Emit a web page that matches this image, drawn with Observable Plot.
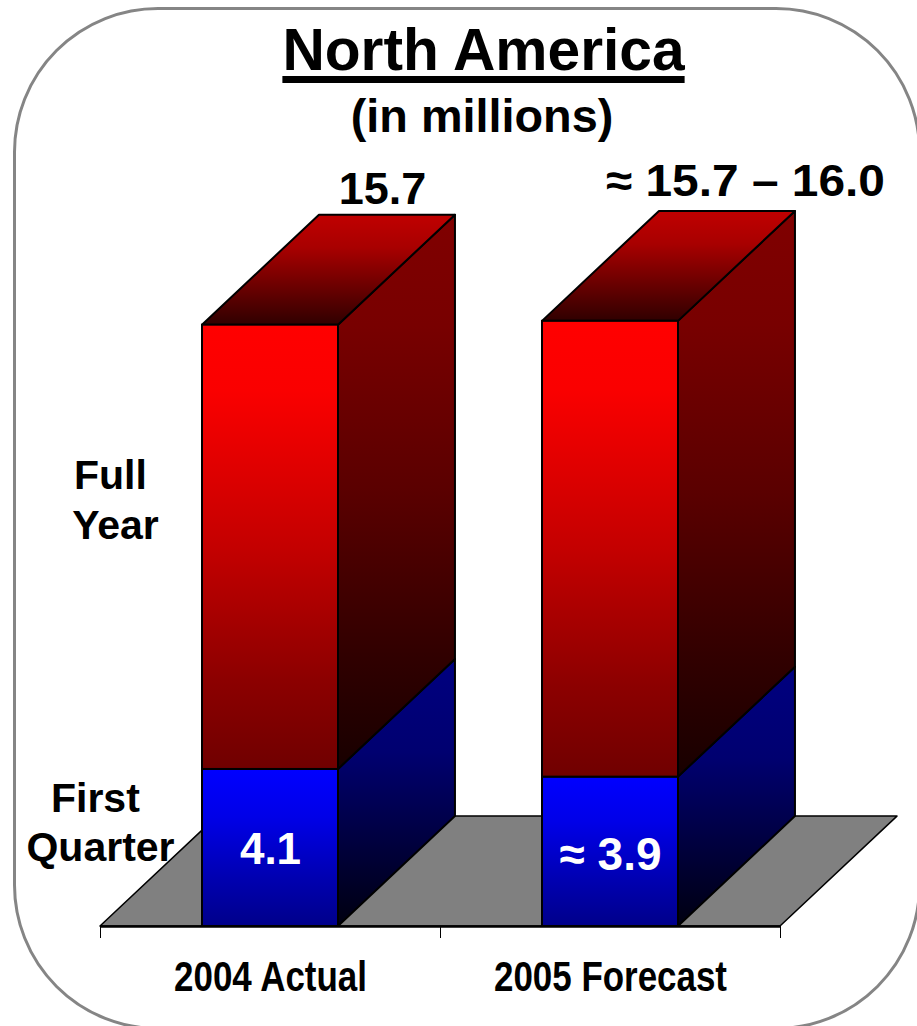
<!DOCTYPE html>
<html>
<head>
<meta charset="utf-8">
<script src="https://cdn.jsdelivr.net/npm/d3@7"></script>
<script src="https://cdn.jsdelivr.net/npm/@observablehq/plot@0.6"></script>
<style>
  html, body { margin: 0; padding: 0; background: #fff; }
  #page {
    position: relative; width: 917px; height: 1026px; overflow: hidden;
    font-family: "Liberation Sans", Arial, sans-serif; font-weight: bold; color: #000;
  }
  #border {
    position: absolute; left: 13px; top: 7px; width: 908px; height: 1023px;
    box-sizing: border-box; border: 3px solid #858585; border-radius: 145px;
  }
  #head { position: relative; height: 150px; }
  #head div {
    position: absolute; white-space: nowrap; line-height: 1; transform: translateX(-50%);
  }
  #title {
    left: 483.5px; top: 21px; font-size: 58.7px;
    text-decoration: underline; text-decoration-thickness: 6.5px; text-underline-offset: 6px;
  }
  #subtitle { left: 482px; top: 93px; font-size: 46.8px; }
  #chart { position: relative; }
</style>
</head>
<body>
<div id="page">
  <div id="border"></div>
  <div id="head">
    <div id="title">North America</div>
    <div id="subtitle">(in millions)</div>
  </div>
  <div id="chart"></div>
</div>
<script>
// Unit sales, in millions
const categories = ["2004 Actual", "2005 Forecast"];
const firstQuarter = [4.1, 3.9];
const fullYear = [15.7, 15.8];
const firstQuarterLabels = ["4.1", "≈ 3.9"];
const fullYearLabels = ["15.7", "≈ 15.7 – 16.0"];
const rowLabels = ["Full", "Year", "First", "Quarter"];

// Where the row names sit, in scale units
const rowLabelX = [0.029, 0.044, -0.015, 0];
const rowLabelY = [11.43, 10.13, 3.0, 1.72];

// Pseudo-3D geometry, expressed in scale units
const barHalfWidth = 0.2;
const depthX = 0.344;
const depthY = 2.87;
const centers = categories.map((_, i) => i + 0.5);

// A parallelogram: the near edge and the same edge pushed back by the depth
const extrude = (id, x1, x2, y1, y2) => [
  {id, x1, x2, y1, y2},
  {id, x1: x1 + depthX, x2: x2 + depthX, y1: y1 + depthY, y2: y2 + depthY}
];

const edge = {stroke: "#000", strokeWidth: 2};
const corners = {x1: "x1", x2: "x2", y1: "y1", y2: "y2"};

const face = (rows, fill) => Plot.area(rows, {...corners, z: "id", fill, ...edge});

function drawBar(i) {
  const l = centers[i] - barHalfWidth, r = centers[i] + barHalfWidth;
  const q = firstQuarter[i], t = fullYear[i];
  return [
    face(extrude("side-q", r, r, 0, q), "url(#side-blue)"),
    face(extrude("side-t", r, r, q, t), "url(#side-red)"),
    face(extrude("top", l, r, t, t), "url(#top-red)"),
    Plot.rect([{x1: l, x2: r, y1: 0, y2: q}], {...corners, fill: "url(#front-blue)", ...edge}),
    Plot.rect([{x1: l, x2: r, y1: q, y2: t}], {...corners, fill: "url(#front-red)", ...edge})
  ];
}

// Offsets of the value labels from their bars
const topLabelDx = [-5, 18];
const topLabelDy = [-11, -15];
const innerLabelDy = [95, 93];

const plot = Plot.plot({
  width: 917,
  height: 876,
  marginTop: 0,
  marginRight: 22,
  marginBottom: 100,
  marginLeft: 100,
  x: {type: "linear", domain: [0, 795 / 340], axis: null},
  y: {type: "linear", domain: [0, 776 / 38.3], axis: null},
  style: {background: "transparent", fontFamily: "'Liberation Sans', Arial, sans-serif", fontWeight: "bold", overflow: "visible"},
  marks: [
    // Floor of the chart
    Plot.area(extrude("floor", 0, 2, 0, 0), {...corners, fill: "#808080", stroke: "#000", strokeWidth: 1.5}),
    categories.map((_, i) => drawBar(i)),
    // Baseline, separators and category names
    Plot.ruleY([0], {x1: 0, x2: 2, stroke: "#000", strokeWidth: 2.5}),
    Plot.axisX({ticks: [0, 1, 2], tickSize: 12, tickFormat: () => "", stroke: "#000"}),
    Plot.axisX({ticks: centers, tickSize: 0, tickPadding: 34, fontSize: 43, tickFormat: (d) => categories[centers.indexOf(d)], fill: "#000"}),
    // Value labels
    categories.map((_, i) =>
      Plot.text([fullYearLabels[i]], {
        x: centers[i] + depthX, y: fullYear[i] + depthY, dx: topLabelDx[i], dy: topLabelDy[i],
        lineAnchor: "bottom", fontSize: 45, fill: "#000"
      })),
    categories.map((_, i) =>
      Plot.text([firstQuarterLabels[i]], {
        x: centers[i], y: firstQuarter[i], dy: innerLabelDy[i],
        lineAnchor: "bottom", fontSize: i ? 46 : 44, fill: "#fff"
      })),
    // Row names at the left of the first bar
    Plot.text(rowLabels, {
      x: (_, i) => rowLabelX[i], y: (_, i) => rowLabelY[i],
      lineAnchor: "bottom", fontSize: 41, fill: "#000"
    })
  ]
});

// Vertical shading used by the bar faces
const shades = {
  "front-red": [[0, "#ff0000"], [0.15, "#fa0000"], [0.5, "#c40000"], [0.8, "#8c0000"], [1, "#700000"]],
  "front-blue": [[0, "#0000ff"], [0.3, "#0000e8"], [0.7, "#0000b0"], [1, "#00008a"]],
  "side-red": [[0, "#800000"], [0.2, "#780000"], [0.5, "#5a0000"], [0.8, "#300000"], [1, "#180000"]],
  "side-blue": [[0, "#000080"], [0.35, "#000070"], [1, "#000010"]],
  "top-red": [[0, "#c00000"], [0.3, "#a80000"], [1, "#300000"]]
};
const defs = d3.select(plot).insert("defs", ":first-child");
for (const [id, stops] of Object.entries(shades)) {
  const g = defs.append("linearGradient").attr("id", id).attr("x1", 0).attr("y1", 0).attr("x2", 0).attr("y2", 1);
  for (const [offset, color] of stops) g.append("stop").attr("offset", offset).attr("stop-color", color);
}

// Narrow the set width of the longer labels so they fit beside the bars
const setWidths = new Map([["2004 Actual", 193], ["2005 Forecast", 233], ["≈ 15.7 – 16.0", 279]]);
d3.select(plot).selectAll("text").each(function () {
  const width = setWidths.get(this.textContent);
  if (width) d3.select(this).attr("textLength", width).attr("lengthAdjust", "spacingAndGlyphs");
});

document.getElementById("chart").append(plot);
</script>
</body>
</html>
